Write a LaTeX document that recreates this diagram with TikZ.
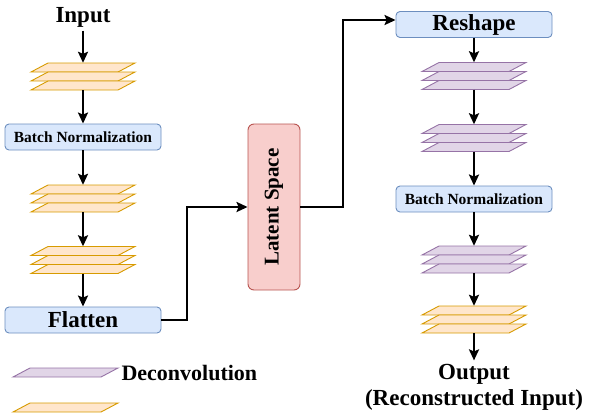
\documentclass[tikz,border=0pt]{standalone}
\usepackage{fontspec}
\setmainfont{Liberation Serif}
\usetikzlibrary{arrows.meta,positioning}

\definecolor{bnfill}{HTML}{DAE8FC}
\definecolor{bndraw}{HTML}{6C8EBF}
\definecolor{convfill}{HTML}{FFE6CC}
\definecolor{convdraw}{HTML}{D79B00}
\definecolor{deconvfill}{HTML}{E1D5E7}
\definecolor{deconvdraw}{HTML}{9673A6}
\definecolor{latentfill}{HTML}{F8CECC}
\definecolor{latentdraw}{HTML}{B85450}

\tikzset{
  bigtext/.style={font=\fontsize{23}{26}\selectfont\bfseries},
  smalltext/.style={font=\fontsize{15.5}{17}\selectfont\bfseries},
  layerbox/.style={draw=bndraw, fill=bnfill, rounded corners=4pt, line width=0.9pt,
    minimum width=156pt, minimum height=26pt, inner sep=0pt},
  stackbox/.style={minimum width=104pt, minimum height=27pt, inner sep=0pt},
  flow/.style={line width=2.3pt, -{Stealth[length=11pt,width=10pt,inset=2pt]}},
  conv/.style={draw=convdraw, fill=convfill, line width=0.9pt},
  deconv/.style={draw=deconvdraw, fill=deconvfill, line width=0.9pt},
  % three flat layers, y grows downwards
  layers/.pic={
    \foreach \t in {-13.5,-4.5,4.5}
      \path[pic actions] (-52,\t+9) -- (35,\t+9) -- (52,\t) -- (-35,\t) -- cycle;
  }
}

\begin{document}
\begin{tikzpicture}[x=1pt, y=-1pt]
  \useasboundingbox (0,0) rectangle (589,418);

  % encoder
  \node[bigtext] (in) at (83,17) {Input};
  \node[stackbox] (e1) at (83,76.5) {};
  \pic[conv] at (e1) {layers};
  \node[layerbox, smalltext] (bn1) at (83,137) {Batch Normalization};
  \node[stackbox] (e2) at (83,198.5) {};
  \pic[conv] at (e2) {layers};
  \node[stackbox] (e3) at (83,260) {};
  \pic[conv] at (e3) {layers};
  \node[layerbox, bigtext] (flat) at (83,320) {Flatten};

  \draw[flow] (in) -- (e1);
  \draw[flow] (e1) -- (bn1);
  \draw[flow] (bn1) -- (e2);
  \draw[flow] (e2) -- (e3);
  \draw[flow] (e3) -- (flat);

  % latent
  \node[draw=latentdraw, fill=latentfill, rounded corners=6pt, line width=0.9pt,
    minimum width=52pt, minimum height=166pt, inner sep=0pt] (lat) at (274,207) {};
  \node[rotate=90, font=\fontsize{21}{23}\selectfont\bfseries] (lattext) at (lat) {Latent Space};
  \draw[flow] (flat.east) -| (187,207) -- (lat.west);

  % decoder
  \node[layerbox, bigtext] (resh) at (474,24.5) {Reshape};
  \node[stackbox] (d1) at (474,76) {};
  \pic[deconv] at (d1) {layers};
  \node[stackbox] (d2) at (474,138) {};
  \pic[deconv] at (d2) {layers};
  \node[layerbox, smalltext] (bn2) at (474,199) {Batch Normalization};
  \node[stackbox] (d3) at (474,259.5) {};
  \pic[deconv] at (d3) {layers};
  \node[stackbox] (d4) at (474,319.5) {};
  \pic[conv] at (d4) {layers};
  \node[bigtext, align=center] (out) at (474,387) {Output\\(Reconstructed Input)};

  \draw[flow] (lat.east) -| (343,20) -- (resh.west |- 0,20);
  \draw[flow] (resh) -- (d1);
  \draw[flow] (d1) -- (d2);
  \draw[flow] (d2) -- (bn2);
  \draw[flow] (bn2) -- (d3);
  \draw[flow] (d3) -- (d4);
  \draw[flow] (d4) -- (out);

  % legend
  \path[deconv] (13,377) -- (101,377) -- (118,368) -- (30,368) -- cycle;
  \node[font=\fontsize{22}{24}\selectfont\bfseries, anchor=west] (legdeconv) at (118,373) {Deconvolution};
  \path[conv] (13,412) -- (101,412) -- (118,403) -- (30,403) -- cycle;
\end{tikzpicture}
\end{document}
